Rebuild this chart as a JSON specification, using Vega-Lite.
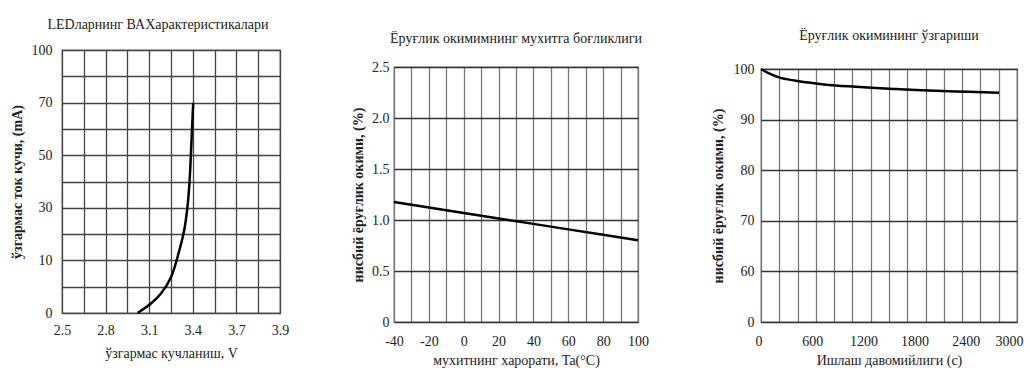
{
  "$schema": "https://vega.github.io/schema/vega-lite/v6.json",
  "background": "white",
  "padding": {"left": 9, "top": 0, "right": 0, "bottom": 0},
  "spacing": 60,
  "config": {
    "font": "Liberation Serif, DejaVu Serif, serif",
    "view": {"stroke": "#333", "strokeWidth": 1.2},
    "axis": {
      "ticks": false, "tickSize": 0, "domain": false, "labelFlush": false,
      "gridColor": "#444", "gridWidth": 1.3, "gridOpacity": 1,
      "labelFont": "Liberation Serif, DejaVu Serif, serif", "labelFontSize": 14, "labelColor": "#222",
      "titleFont": "Liberation Serif, DejaVu Serif, serif", "titleFontSize": 14, "titleColor": "#222", "titleFontWeight": "normal"
    },
    "title": {"font": "Liberation Serif, DejaVu Serif, serif", "fontSize": 14, "fontWeight": "normal", "color": "#222", "anchor": "middle"}
  },
  "hconcat": [
    {
      "spacing": 0,
      "vconcat": [
        {"width": 10, "height": 17, "view": {"stroke": null}, "data": {"values": []}, "mark": {"type": "point", "opacity": 0}},
        {
          "width": 218, "height": 263,
          "title": {"text": "LEDларнинг ВАХарактеристикалари", "offset": 11, "dx": -13},
          "data": {"values": [
            {"V": 3.02, "I": 0}, {"V": 3.112, "I": 1.8}, {"V": 3.181, "I": 3.7}, {"V": 3.25, "I": 6.8},
            {"V": 3.307, "I": 13.75}, {"V": 3.34, "I": 21.3}, {"V": 3.363, "I": 30.2}, {"V": 3.378, "I": 40.3},
            {"V": 3.389, "I": 52.9}, {"V": 3.396, "I": 61.7}, {"V": 3.403, "I": 69.9}
          ]},
          "mark": {"type": "line", "color": "black", "strokeWidth": 2.5, "interpolate": "catmull-rom"},
          "encoding": {
            "x": {"field": "V", "type": "quantitative",
              "scale": {"domain": [2.5, 3.7, 3.9], "range": [0, 174.4, 218], "nice": false, "zero": false},
              "axis": {"values": [2.5, 2.65, 2.8, 2.95, 3.1, 3.25, 3.4, 3.55, 3.7, 3.8, 3.9],
                "labelExpr": "indexof(['2.50','2.80','3.10','3.40','3.70','3.90'], format(datum.value, '.2f')) >= 0 ? format(datum.value, '.1f') : ''",
                "title": "ўзгармас кучланиш, V", "labelPadding": 10, "titlePadding": 9}},
            "y": {"field": "I", "type": "quantitative",
              "scale": {"domain": [0, 10, 30, 50, 70, 100], "range": [263, 210.4, 157.8, 105.2, 52.6, 0], "nice": false},
              "axis": {"values": [0, 5, 10, 20, 30, 40, 50, 60, 70, 85, 100],
                "labelExpr": "indexof([0, 10, 30, 50, 70, 100], datum.value) >= 0 ? datum.label : ''",
                "title": "ўзгармас ток кучи, (mA)", "titleFontWeight": "bold", "labelPadding": 10, "titlePadding": 7}}
          }
        }
      ]
    },
    {
      "spacing": 0,
      "vconcat": [
        {"width": 10, "height": 31, "view": {"stroke": null}, "data": {"values": []}, "mark": {"type": "point", "opacity": 0}},
        {
          "width": 244, "height": 255,
          "title": {"text": "Ёруғлик окимимнинг мухитга боғликлиги", "offset": 14},
          "data": {"values": [
            {"T": -40, "L": 1.176}, {"T": -20, "L": 1.122}, {"T": 0, "L": 1.069}, {"T": 20, "L": 1.015},
            {"T": 40, "L": 0.962}, {"T": 60, "L": 0.908}, {"T": 80, "L": 0.855}, {"T": 100, "L": 0.801}
          ]},
          "mark": {"type": "line", "color": "black", "strokeWidth": 2.5},
          "encoding": {
            "x": {"field": "T", "type": "quantitative",
              "scale": {"domain": [-40, 100], "nice": false, "zero": false},
              "axis": {"values": [-40, -30, -20, -10, 0, 10, 20, 30, 40, 50, 60, 70, 80, 90, 100],
                "labelExpr": "datum.value % 20 == 0 ? '' + datum.value : ''",
                "gridColor": "#777", "title": "мухитнинг харорати, Ta(°C)", "labelPadding": 12, "titlePadding": 5}},
            "y": {"field": "L", "type": "quantitative",
              "scale": {"domain": [0, 2.5], "nice": false},
              "axis": {"values": [0, 0.5, 1, 1.5, 2, 2.5],
                "labelExpr": "datum.value == 0 ? '0' : format(datum.value, '.1f')",
                "gridColor": "#333",
                "title": "нисбий ёруғлик окими, (%)", "titleFontWeight": "bold", "labelPadding": 5, "titlePadding": 6}}
          }
        }
      ]
    },
    {
      "spacing": 0,
      "vconcat": [
        {"width": 10, "height": 28, "view": {"stroke": null}, "data": {"values": []}, "mark": {"type": "point", "opacity": 0}},
        {
          "width": 256, "height": 253,
          "title": {"text": "Ёруғлик окимининг ўзгариши", "offset": 19},
          "data": {"values": [
            {"t": 0, "P": 100}, {"t": 94, "P": 99.13}, {"t": 211, "P": 98.34}, {"t": 406, "P": 97.68},
            {"t": 641, "P": 97.15}, {"t": 875, "P": 96.75}, {"t": 1110, "P": 96.5}, {"t": 1344, "P": 96.24},
            {"t": 1578, "P": 96.03}, {"t": 1813, "P": 95.84}, {"t": 2047, "P": 95.7}, {"t": 2282, "P": 95.56},
            {"t": 2516, "P": 95.44}, {"t": 2789, "P": 95.3}
          ]},
          "layer": [
            {
              "mark": {"type": "line", "strokeOpacity": 0},
              "encoding": {
                "x": {"field": "t", "type": "quantitative",
                  "scale": {"domain": [0, 3000], "nice": false, "zero": false},
                  "axis": {"values": [0, 214.2857, 428.5714, 642.8571, 857.1429, 1071.4286, 1285.7143, 1500, 1714.2857, 1928.5714, 2142.8571, 2357.1429, 2571.4286, 2785.7143, 3000],
                    "labels": false, "title": null, "orient": "bottom", "gridColor": "#777"}},
                "y": {"field": "P", "type": "quantitative",
                  "scale": {"domain": [0, 60, 100], "range": [253, 202.4, 0], "nice": false},
                  "axis": {"values": [0, 60, 70, 80, 90, 100], "gridColor": "#333",
                    "title": "нисбий ёруғлик окими, (%)", "titleFontWeight": "bold", "labelPadding": 7, "titlePadding": 8}}
              }
            },
            {
              "mark": {"type": "line", "color": "black", "strokeWidth": 2.5, "interpolate": "monotone"},
              "encoding": {
                "x": {"field": "t", "type": "quantitative",
                  "axis": {"values": [0, 600, 1200, 1800, 2400, 3000], "format": "d", "grid": false, "orient": "bottom",
                    "labelFlush": true, "labelFlushOffset": 6,
                    "title": "Ишлаш давомийлиги (с)", "labelPadding": 12, "titlePadding": 5}},
                "y": {"field": "P", "type": "quantitative",
                  "scale": {"domain": [0, 60, 100], "range": [253, 202.4, 0], "nice": false},
                  "axis": {"values": [0, 60, 70, 80, 90, 100], "gridColor": "#333",
                    "title": "нисбий ёруғлик окими, (%)", "titleFontWeight": "bold", "labelPadding": 7, "titlePadding": 8}}
              }
            }
          ],
          "resolve": {"axis": {"x": "independent"}}
        }
      ]
    }
  ]
}
